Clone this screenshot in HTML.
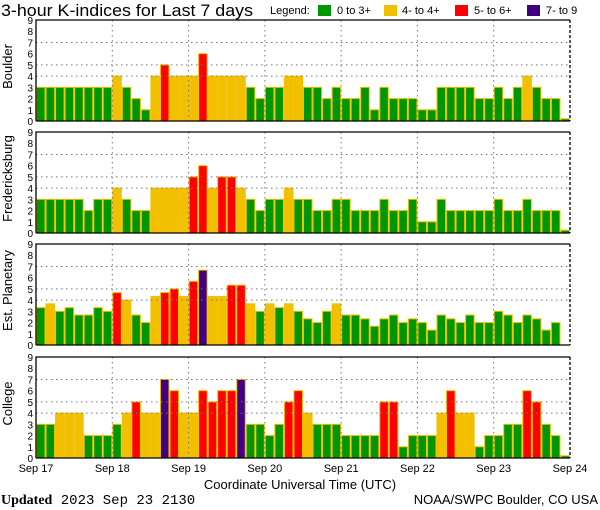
<!DOCTYPE html>
<html><head><meta charset="utf-8"><style>
html,body{margin:0;padding:0;background:#fff;}
svg{display:block;font-family:"Liberation Sans",sans-serif;}
</style></head><body>
<svg id="c" width="600" height="510" viewBox="0 0 600 510" xmlns="http://www.w3.org/2000/svg">
<text x="1" y="16" font-size="17" textLength="252" lengthAdjust="spacingAndGlyphs">3-hour K-indices for Last 7 days</text>
<g font-size="11">
<text x="270" y="14">Legend:</text>
<rect x="318" y="5" width="13" height="11" fill="#009600"/>
<text x="337" y="14">0 to 3+</text>
<rect x="384" y="5" width="13" height="11" fill="#f2c000"/>
<text x="402" y="14">4- to 4+</text>
<rect x="455" y="5" width="13" height="11" fill="#ff0000"/>
<text x="474" y="14">5- to 6+</text>
<rect x="527" y="5" width="13" height="11" fill="#400080"/>
<text x="546" y="14">7- to 9</text>
</g>
<text x="300" y="489" font-size="13" text-anchor="middle">Coordinate Universal Time (UTC)</text>
<text x="1" y="504" font-size="14" font-family="Liberation Mono,monospace"><tspan font-weight="bold" font-family="Liberation Serif,serif">Updated</tspan> 2023 Sep 23 2130</text>
<text x="598" y="504" font-size="13" text-anchor="end">NOAA/SWPC Boulder, CO USA</text>
</svg>
<script>
const stations = ["Boulder","Fredericksburg","Est. Planetary","College"];
const dayLabels = ["Sep 17","Sep 18","Sep 19","Sep 20","Sep 21","Sep 22","Sep 23","Sep 24"];
const yTicks = [0,1,2,3,4,5,6,7,8,9];
const boulder = [3,3,3,3,3,3,3,3, 4,3,2,1,4,5,4,4, 4,6,4,4,4,4,3,2, 3,3,4,4,3,3,2,3, 2,2,3,1,3,2,2,2, 1,1,3,3,3,3,2,2, 3,2,3,4,3,2,2,0.2];
const fredericksburg = [3,3,3,3,3,2,3,3, 4,3,2,2,4,4,4,4, 5,6,4,5,5,4,3,2, 3,3,4,3,3,2,2,3, 3,2,2,2,3,2,2,3, 1,1,3,2,2,2,2,2, 3,2,2,3,2,2,2,0.25];
const planetary = [3.33,3.67,3,3.33,2.67,2.67,3.33,3, 4.67,4,2.67,2,4.33,4.67,5,4.33, 5.67,6.67,4.33,4.33,5.33,5.33,3.67,3, 3.67,3.33,3.67,3,2.33,2,3,3.67, 2.67,2.67,2.33,1.67,2.33,2.67,2,2.33, 2,1.33,2.67,2.33,2,2.67,2,2, 3,2.67,2,2.67,2.33,1.33,2,0];
const college = [3,3,4,4,4,2,2,2, 3,4,5,4,4,7,6,4, 4,6,5,6,6,7,3,3, 2,3,5,6,4,3,3,3, 2,2,2,2,5,5,1,2, 2,2,4,6,4,4,1,2, 2,3,3,6,5,3,2,0.2];
const seriesList = [boulder,fredericksburg,planetary,college];
const panelTops = [20,132,244,357];
const NS="http://www.w3.org/2000/svg";
const svg=document.getElementById('c');
const X0=36, X1=570, PH=101;
const bw=(X1-X0)/56;
function xScale(i){return X0+i*bw;}
function yScale(top,v){return top+PH-v*PH/9;}
function colorOf(v){return v<3.5?"#009600":v<4.5?"#f2c000":v<6.5?"#ff0000":"#400080";}
function mk(tag,attrs){const e=document.createElementNS(NS,tag);for(const k in attrs)e.setAttribute(k,attrs[k]);return e;}
seriesList.forEach((data,p)=>{
  const top=panelTops[p];
  const g=mk('g',{});
  
  
  svg.appendChild(g);
  data.forEach((v,i)=>{
    if(!v) return;
    const y=yScale(top,v);
    const r=mk('rect',{x:xScale(i)+0.5,y:y,width:bw-1,height:top+PH-y,fill:colorOf(v),stroke:"#f2c000","stroke-width":1});
    
    
    g.appendChild(r);
  });
  [4,5,7].forEach(t=>{
    const l=mk('line',{x1:X0,x2:X1,y1:yScale(top,t),y2:yScale(top,t),stroke:"#777","stroke-dasharray":"1.5,3.5"});
    
    
    g.appendChild(l);
  });
  for(let d=1;d<7;d++){
    const l=mk('line',{x1:xScale(d*8),x2:xScale(d*8),y1:top,y2:top+PH,stroke:"#777","stroke-dasharray":"1.5,3.5"});
    
    
    g.appendChild(l);
  }
  const b=mk('path',{d:`M${X0},${top+PH} V${top} H${X1}`,fill:"none",stroke:"#000","stroke-width":1.3});
  
  
  g.appendChild(b);
  const bb=mk('line',{x1:X0,x2:X1,y1:top+PH,y2:top+PH,stroke:"#000","stroke-width":1.3});
  
  
  g.appendChild(bb);
  const rr=mk('line',{x1:X1,x2:X1,y1:top,y2:top+PH,stroke:"#000","stroke-width":1.3,"stroke-dasharray":"3,2"});
  
  
  g.appendChild(rr);
  yTicks.forEach(t=>{
    const tx=mk('text',{x:33,y:yScale(top,t)+4,"font-size":10,"text-anchor":"end"});
    tx.textContent=t;
    
    
    g.appendChild(tx);
  });
  const cy=top+PH/2;
  const lab=mk('text',{x:16,y:cy,"font-size":13,"text-anchor":"middle",transform:`rotate(-90 12 ${cy})`});
  lab.textContent=stations[p];
  
  
  g.appendChild(lab);
});
dayLabels.forEach((d,i)=>{
  const t=mk('text',{x:xScale(i*8),y:472,"font-size":11,"text-anchor":"middle"});
  t.textContent=d;
  
  
  svg.appendChild(t);
});
</script>
</body></html>
